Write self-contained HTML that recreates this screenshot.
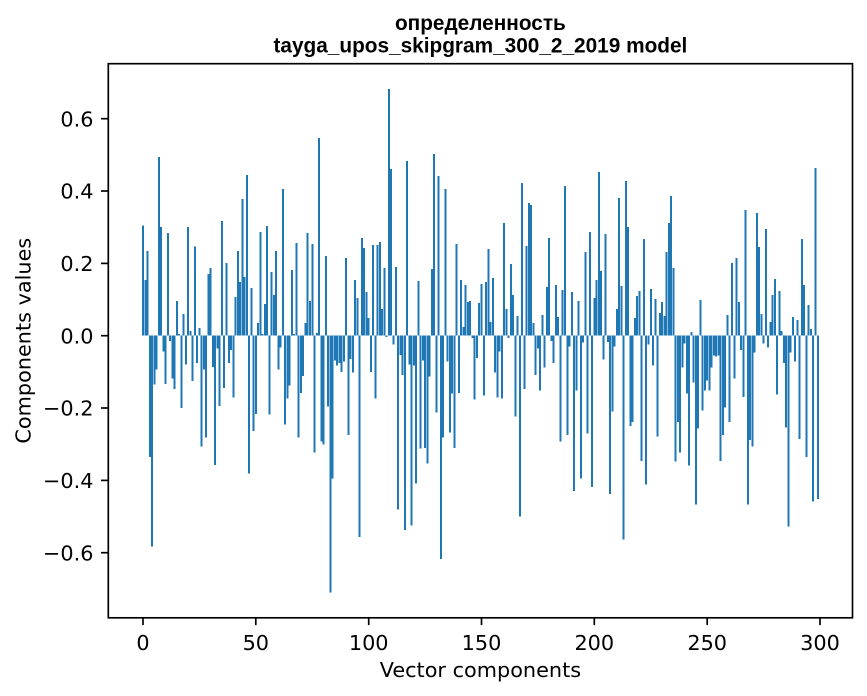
<!DOCTYPE html>
<html><head><meta charset="utf-8"><style>
html,body{margin:0;padding:0;background:#fff;}
svg{display:block;}
.t{font-family:"DejaVu Sans","Liberation Sans",sans-serif;font-size:20.8px;fill:#000;}
.ti{font-family:"Liberation Sans","DejaVu Sans",sans-serif;font-size:20.8px;font-weight:bold;fill:#000;}
.bars rect{width:.886px;}
</style></head><body>
<svg width="867" height="696" viewBox="0 0 867 696" xmlns="http://www.w3.org/2000/svg">
<rect width="867" height="696" fill="#fff"/>
<g class="bars" transform="translate(143,335.7) scale(2.2567,-361.7)" fill="#1f77b4" shape-rendering="crispEdges">
<rect x="-0.443" y="0" width=".886" height=".304"/>
<rect x="0.557" y="0" width=".886" height=".154"/>
<rect x="1.557" y="0" width=".886" height=".234"/>
<rect x="2.557" y="-.335" width=".886" height=".335"/>
<rect x="3.557" y="-.583" width=".886" height=".583"/>
<rect x="4.557" y="-.135" width=".886" height=".135"/>
<rect x="5.557" y="-.094" width=".886" height=".094"/>
<rect x="6.557" y="0" width=".886" height=".494"/>
<rect x="7.557" y="0" width=".886" height=".300"/>
<rect x="8.557" y="-.044" width=".886" height=".044"/>
<rect x="9.557" y="-.133" width=".886" height=".133"/>
<rect x="10.557" y="0" width=".886" height=".284"/>
<rect x="11.557" y="-.014" width=".886" height=".014"/>
<rect x="12.557" y="-.119" width=".886" height=".119"/>
<rect x="13.557" y="-.147" width=".886" height=".147"/>
<rect x="14.557" y="0" width=".886" height=".096"/>
<rect x="15.557" y="0" width=".886" height=".005"/>
<rect x="16.557" y="-.2" width=".886" height=".2"/>
<rect x="17.557" y="0" width=".886" height=".06"/>
<rect x="18.557" y="-.08" width=".886" height=".08"/>
<rect x="19.557" y="0" width=".886" height=".30"/>
<rect x="20.557" y="0" width=".886" height=".013"/>
<rect x="21.557" y="-.125" width=".886" height=".125"/>
<rect x="22.557" y="0" width=".886" height=".246"/>
<rect x="23.557" y="-.075" width=".886" height=".075"/>
<rect x="24.557" y="0" width=".886" height=".021"/>
<rect x="25.557" y="-.307" width=".886" height=".307"/>
<rect x="26.557" y="-.094" width=".886" height=".094"/>
<rect x="27.557" y="-.282" width=".886" height=".282"/>
<rect x="28.557" y="0" width=".886" height=".17"/>
<rect x="29.557" y="0" width=".886" height=".187"/>
<rect x="30.557" y="-.086" width=".886" height=".086"/>
<rect x="31.557" y="-.357" width=".886" height=".357"/>
<rect x="32.557" y="-.036" width=".886" height=".036"/>
<rect x="33.557" y="-.194" width=".886" height=".194"/>
<rect x="34.557" y="0" width=".886" height=".317"/>
<rect x="35.557" y="-.144" width=".886" height=".144"/>
<rect x="36.557" y="0" width=".886" height=".201"/>
<rect x="37.557" y="-.075" width=".886" height=".075"/>
<rect x="38.557" y="-.039" width=".886" height=".039"/>
<rect x="39.557" y="-.171" width=".886" height=".171"/>
<rect x="40.557" y="0" width=".886" height=".107"/>
<rect x="41.557" y="0" width=".886" height=".234"/>
<rect x="42.557" y="0" width=".886" height=".148"/>
<rect x="43.557" y="0" width=".886" height=".378"/>
<rect x="44.557" y="0" width=".886" height=".162"/>
<rect x="45.557" y="0" width=".886" height=".444"/>
<rect x="46.557" y="-.381" width=".886" height=".381"/>
<rect x="47.557" y="0" width=".886" height=".132"/>
<rect x="48.557" y="-.263" width=".886" height=".263"/>
<rect x="49.557" y="-.216" width=".886" height=".216"/>
<rect x="50.557" y="0" width=".886" height=".035"/>
<rect x="51.557" y="0" width=".886" height=".287"/>
<rect x="52.557" y="0" width=".886" height=".005"/>
<rect x="53.557" y="0" width=".886" height=".088"/>
<rect x="54.557" y="0" width=".886" height=".303"/>
<rect x="55.557" y="-.218" width=".886" height=".218"/>
<rect x="56.557" y="0" width=".886" height=".176"/>
<rect x="57.557" y="0" width=".886" height=".112"/>
<rect x="58.557" y="0" width=".886" height=".234"/>
<rect x="59.557" y="-.094" width=".886" height=".094"/>
<rect x="60.557" y="-.033" width=".886" height=".033"/>
<rect x="61.557" y="0" width=".886" height=".406"/>
<rect x="62.557" y="-.246" width=".886" height=".246"/>
<rect x="63.557" y="-.174" width=".886" height=".174"/>
<rect x="64.557" y="-.138" width=".886" height=".138"/>
<rect x="65.557" y="0" width=".886" height=".182"/>
<rect x="66.557" y="0" width=".886" height=".005"/>
<rect x="67.557" y="0" width=".886" height=".256"/>
<rect x="68.557" y="-.282" width=".886" height=".282"/>
<rect x="69.557" y="-.158" width=".886" height=".158"/>
<rect x="70.557" y="-.111" width=".886" height=".111"/>
<rect x="71.557" y="0" width=".886" height=".035"/>
<rect x="72.557" y="0" width=".886" height=".284"/>
<rect x="73.557" y="0" width=".886" height=".096"/>
<rect x="74.557" y="0" width=".886" height=".253"/>
<rect x="75.557" y="-.323" width=".886" height=".323"/>
<rect x="76.557" y="0" width=".886" height=".007"/>
<rect x="77.557" y="0" width=".886" height=".547"/>
<rect x="78.557" y="-.293" width=".886" height=".293"/>
<rect x="79.557" y="-.301" width=".886" height=".301"/>
<rect x="80.557" y="0" width=".886" height=".22"/>
<rect x="81.557" y="-.196" width=".886" height=".196"/>
<rect x="82.557" y="-.71" width=".886" height=".71"/>
<rect x="83.557" y="-.395" width=".886" height=".395"/>
<rect x="84.557" y="-.069" width=".886" height=".069"/>
<rect x="85.557" y="-.083" width=".886" height=".083"/>
<rect x="86.557" y="-.075" width=".886" height=".075"/>
<rect x="87.557" y="-.1" width=".886" height=".1"/>
<rect x="88.557" y="-.072" width=".886" height=".072"/>
<rect x="89.557" y="0" width=".886" height=".215"/>
<rect x="90.557" y="-.274" width=".886" height=".274"/>
<rect x="91.557" y="-.064" width=".886" height=".064"/>
<rect x="92.557" y="-.102" width=".886" height=".102"/>
<rect x="93.557" y="0" width=".886" height=".154"/>
<rect x="94.557" y="0" width=".886" height=".104"/>
<rect x="95.557" y="-.556" width=".886" height=".556"/>
<rect x="96.557" y="0" width=".886" height=".27"/>
<rect x="97.557" y="0" width=".886" height=".242"/>
<rect x="98.557" y="0" width=".886" height=".121"/>
<rect x="99.557" y="0" width=".886" height=".049"/>
<rect x="100.557" y="-.1" width=".886" height=".1"/>
<rect x="101.557" y="0" width=".886" height=".251"/>
<rect x="102.557" y="-.174" width=".886" height=".174"/>
<rect x="103.557" y="0" width=".886" height=".251"/>
<rect x="104.557" y="0" width=".886" height=".259"/>
<rect x="105.557" y="0" width=".886" height=".074"/>
<rect x="106.557" y="0" width=".886" height=".187"/>
<rect x="107.557" y="-.003" width=".886" height=".003"/>
<rect x="108.557" y="0" width=".886" height=".682"/>
<rect x="109.557" y="0" width=".886" height=".461"/>
<rect x="110.557" y="-.025" width=".886" height=".025"/>
<rect x="111.557" y="0" width=".886" height=".19"/>
<rect x="112.557" y="-.481" width=".886" height=".481"/>
<rect x="113.557" y="-.053" width=".886" height=".053"/>
<rect x="114.557" y="-.108" width=".886" height=".108"/>
<rect x="115.557" y="-.537" width=".886" height=".537"/>
<rect x="116.557" y="0" width=".886" height=".483"/>
<rect x="117.557" y="-.08" width=".886" height=".08"/>
<rect x="118.557" y="-.525" width=".886" height=".525"/>
<rect x="119.557" y="-.083" width=".886" height=".083"/>
<rect x="120.557" y="-.409" width=".886" height=".409"/>
<rect x="121.557" y="0" width=".886" height=".151"/>
<rect x="122.557" y="-.312" width=".886" height=".312"/>
<rect x="123.557" y="-.069" width=".886" height=".069"/>
<rect x="124.557" y="-.31" width=".886" height=".31"/>
<rect x="125.557" y="-.354" width=".886" height=".354"/>
<rect x="126.557" y="-.113" width=".886" height=".113"/>
<rect x="127.557" y="0" width=".886" height=".184"/>
<rect x="128.557" y="0" width=".886" height=".502"/>
<rect x="129.557" y="-.213" width=".886" height=".213"/>
<rect x="130.557" y="0" width=".886" height=".441"/>
<rect x="131.557" y="-.617" width=".886" height=".617"/>
<rect x="132.557" y="-.282" width=".886" height=".282"/>
<rect x="133.557" y="0" width=".886" height=".406"/>
<rect x="134.557" y="-.072" width=".886" height=".072"/>
<rect x="135.557" y="-.268" width=".886" height=".268"/>
<rect x="136.557" y="-.16" width=".886" height=".16"/>
<rect x="137.557" y="-.31" width=".886" height=".31"/>
<rect x="138.557" y="0" width=".886" height=".253"/>
<rect x="139.557" y="-.158" width=".886" height=".158"/>
<rect x="140.557" y="0" width=".886" height=".154"/>
<rect x="141.557" y="0" width=".886" height=".024"/>
<rect x="142.557" y="0" width=".886" height=".14"/>
<rect x="143.557" y="0" width=".886" height=".093"/>
<rect x="144.557" y="0" width=".886" height=".096"/>
<rect x="145.557" y="-.006" width=".886" height=".006"/>
<rect x="146.557" y="-.177" width=".886" height=".177"/>
<rect x="147.557" y="-.061" width=".886" height=".061"/>
<rect x="148.557" y="0" width=".886" height=".09"/>
<rect x="149.557" y="0" width=".886" height=".143"/>
<rect x="150.557" y="-.166" width=".886" height=".166"/>
<rect x="151.557" y="0" width=".886" height=".148"/>
<rect x="152.557" y="0" width=".886" height=".24"/>
<rect x="153.557" y="0" width=".886" height=".038"/>
<rect x="154.557" y="0" width=".886" height=".159"/>
<rect x="155.557" y="-.102" width=".886" height=".102"/>
<rect x="156.557" y="-.171" width=".886" height=".171"/>
<rect x="157.557" y="-.044" width=".886" height=".044"/>
<rect x="158.557" y="-.174" width=".886" height=".174"/>
<rect x="159.557" y="0" width=".886" height=".312"/>
<rect x="160.557" y="0" width=".886" height=".074"/>
<rect x="161.557" y="-.006" width=".886" height=".006"/>
<rect x="162.557" y="0" width=".886" height=".198"/>
<rect x="163.557" y="0" width=".886" height=".112"/>
<rect x="164.557" y="-.224" width=".886" height=".224"/>
<rect x="165.557" y="0" width=".886" height=".054"/>
<rect x="166.557" y="-.5" width=".886" height=".5"/>
<rect x="167.557" y="0" width=".886" height=".422"/>
<rect x="168.557" y="-.147" width=".886" height=".147"/>
<rect x="169.557" y="0" width=".886" height=".248"/>
<rect x="170.557" y="0" width=".886" height=".367"/>
<rect x="171.557" y="0" width=".886" height=".361"/>
<rect x="172.557" y="0" width=".886" height=".035"/>
<rect x="173.557" y="-.108" width=".886" height=".108"/>
<rect x="174.557" y="-.036" width=".886" height=".036"/>
<rect x="175.557" y="-.152" width=".886" height=".152"/>
<rect x="176.557" y="0" width=".886" height=".057"/>
<rect x="177.557" y="-.088" width=".886" height=".088"/>
<rect x="178.557" y="0" width=".886" height=".135"/>
<rect x="179.557" y="0" width=".886" height=".27"/>
<rect x="180.557" y="-.014" width=".886" height=".014"/>
<rect x="181.557" y="-.075" width=".886" height=".075"/>
<rect x="182.557" y="0" width=".886" height=".14"/>
<rect x="183.557" y="0" width=".886" height=".052"/>
<rect x="184.557" y="-.293" width=".886" height=".293"/>
<rect x="185.557" y="0" width=".886" height=".126"/>
<rect x="186.557" y="0" width=".886" height=".414"/>
<rect x="187.557" y="-.274" width=".886" height=".274"/>
<rect x="188.557" y="-.03" width=".886" height=".03"/>
<rect x="189.557" y="0" width=".886" height=".121"/>
<rect x="190.557" y="-.429" width=".886" height=".429"/>
<rect x="191.557" y="-.152" width=".886" height=".152"/>
<rect x="192.557" y="0" width=".886" height=".096"/>
<rect x="193.557" y="-.395" width=".886" height=".395"/>
<rect x="194.557" y="-.019" width=".886" height=".019"/>
<rect x="195.557" y="0" width=".886" height=".231"/>
<rect x="196.557" y="-.271" width=".886" height=".271"/>
<rect x="197.557" y="0" width=".886" height=".287"/>
<rect x="198.557" y="-.418" width=".886" height=".418"/>
<rect x="199.557" y="0" width=".886" height=".104"/>
<rect x="200.557" y="0" width=".886" height=".154"/>
<rect x="201.557" y="0" width=".886" height=".453"/>
<rect x="202.557" y="0" width=".886" height=".179"/>
<rect x="203.557" y="-.066" width=".886" height=".066"/>
<rect x="204.557" y="0" width=".886" height=".281"/>
<rect x="205.557" y="-.017" width=".886" height=".017"/>
<rect x="206.557" y="-.437" width=".886" height=".437"/>
<rect x="207.557" y="-.21" width=".886" height=".21"/>
<rect x="208.557" y="-.03" width=".886" height=".03"/>
<rect x="209.557" y="0" width=".886" height=".074"/>
<rect x="210.557" y="0" width=".886" height=".381"/>
<rect x="211.557" y="0" width=".886" height=".137"/>
<rect x="212.557" y="-.564" width=".886" height=".564"/>
<rect x="213.557" y="0" width=".886" height=".428"/>
<rect x="214.557" y="0" width=".886" height=".3"/>
<rect x="215.557" y="-.249" width=".886" height=".249"/>
<rect x="216.557" y="-.238" width=".886" height=".238"/>
<rect x="217.557" y="0" width=".886" height=".049"/>
<rect x="218.557" y="0" width=".886" height=".11"/>
<rect x="219.557" y="0" width=".886" height=".123"/>
<rect x="220.557" y="-.346" width=".886" height=".346"/>
<rect x="221.557" y="0" width=".886" height=".267"/>
<rect x="222.557" y="-.412" width=".886" height=".412"/>
<rect x="223.557" y="-.025" width=".886" height=".025"/>
<rect x="224.557" y="0" width=".886" height=".129"/>
<rect x="225.557" y="-.083" width=".886" height=".083"/>
<rect x="226.557" y="0" width=".886" height=".101"/>
<rect x="227.557" y="-.279" width=".886" height=".279"/>
<rect x="228.557" y="0" width=".886" height=".063"/>
<rect x="229.557" y="0" width=".886" height=".093"/>
<rect x="230.557" y="0" width=".886" height=".054"/>
<rect x="231.557" y="0" width=".886" height=".231"/>
<rect x="232.557" y="0" width=".886" height=".312"/>
<rect x="233.557" y="0" width=".886" height=".386"/>
<rect x="234.557" y="0" width=".886" height=".187"/>
<rect x="235.557" y="-.348" width=".886" height=".348"/>
<rect x="236.557" y="-.238" width=".886" height=".238"/>
<rect x="237.557" y="-.323" width=".886" height=".323"/>
<rect x="238.557" y="-.088" width=".886" height=".088"/>
<rect x="239.557" y="-.022" width=".886" height=".022"/>
<rect x="240.557" y="-.16" width=".886" height=".16"/>
<rect x="241.557" y="-.359" width=".886" height=".359"/>
<rect x="242.557" y="0" width=".886" height=".01"/>
<rect x="243.557" y="-.13" width=".886" height=".13"/>
<rect x="244.557" y="-.467" width=".886" height=".467"/>
<rect x="245.557" y="-.257" width=".886" height=".257"/>
<rect x="246.557" y="0" width=".886" height=".099"/>
<rect x="247.557" y="-.207" width=".886" height=".207"/>
<rect x="248.557" y="-.152" width=".886" height=".152"/>
<rect x="249.557" y="-.124" width=".886" height=".124"/>
<rect x="250.557" y="-.152" width=".886" height=".152"/>
<rect x="251.557" y="-.088" width=".886" height=".088"/>
<rect x="252.557" y="-.055" width=".886" height=".055"/>
<rect x="253.557" y="-.058" width=".886" height=".058"/>
<rect x="254.557" y="-.055" width=".886" height=".055"/>
<rect x="255.557" y="-.346" width=".886" height=".346"/>
<rect x="256.557" y="-.274" width=".886" height=".274"/>
<rect x="257.557" y="-.199" width=".886" height=".199"/>
<rect x="258.557" y="0" width=".886" height=".057"/>
<rect x="259.557" y="-.238" width=".886" height=".238"/>
<rect x="260.557" y="0" width=".886" height=".201"/>
<rect x="261.557" y="-.119" width=".886" height=".119"/>
<rect x="262.557" y="0" width=".886" height=".215"/>
<rect x="263.557" y="0" width=".886" height=".093"/>
<rect x="264.557" y="-.039" width=".886" height=".039"/>
<rect x="265.557" y="-.169" width=".886" height=".169"/>
<rect x="266.557" y="0" width=".886" height=".347"/>
<rect x="267.557" y="-.467" width=".886" height=".467"/>
<rect x="268.557" y="-.288" width=".886" height=".288"/>
<rect x="269.557" y="-.307" width=".886" height=".307"/>
<rect x="270.557" y="-.047" width=".886" height=".047"/>
<rect x="271.557" y="0" width=".886" height=".339"/>
<rect x="272.557" y="0" width=".886" height=".245"/>
<rect x="273.557" y="0" width=".886" height=".06"/>
<rect x="274.557" y="-.022" width=".886" height=".022"/>
<rect x="275.557" y="0" width=".886" height=".295"/>
<rect x="276.557" y="-.033" width=".886" height=".033"/>
<rect x="277.557" y="0" width=".886" height=".038"/>
<rect x="278.557" y="0" width=".886" height=".112"/>
<rect x="279.557" y="0" width=".886" height=".157"/>
<rect x="280.557" y="-.163" width=".886" height=".163"/>
<rect x="281.557" y="0" width=".886" height=".123"/>
<rect x="282.557" y="0" width=".886" height=".013"/>
<rect x="283.557" y="-.075" width=".886" height=".075"/>
<rect x="284.557" y="-.254" width=".886" height=".254"/>
<rect x="285.557" y="-.528" width=".886" height=".528"/>
<rect x="286.557" y="-.047" width=".886" height=".047"/>
<rect x="287.557" y="0" width=".886" height=".052"/>
<rect x="288.557" y="-.072" width=".886" height=".072"/>
<rect x="289.557" y="0" width=".886" height=".043"/>
<rect x="290.557" y="-.285" width=".886" height=".285"/>
<rect x="291.557" y="0" width=".886" height=".267"/>
<rect x="292.557" y="0" width=".886" height=".14"/>
<rect x="293.557" y="-.335" width=".886" height=".335"/>
<rect x="294.557" y="0" width=".886" height=".085"/>
<rect x="295.557" y="0" width=".886" height=".018"/>
<rect x="296.557" y="-.459" width=".886" height=".459"/>
<rect x="297.557" y="0" width=".886" height=".464"/>
<rect x="298.557" y="-.451" width=".886" height=".451"/>
</g>
<rect x="108.3" y="63.7" width="744.2" height="554.1" fill="none" stroke="#000" stroke-width="1.67"/>
<g stroke="#000" stroke-width="1.67">
<line x1="143" y1="617.8" x2="143" y2="625.1"/>
<line x1="255.8" y1="617.8" x2="255.8" y2="625.1"/>
<line x1="368.7" y1="617.8" x2="368.7" y2="625.1"/>
<line x1="481.5" y1="617.8" x2="481.5" y2="625.1"/>
<line x1="594.3" y1="617.8" x2="594.3" y2="625.1"/>
<line x1="707.2" y1="617.8" x2="707.2" y2="625.1"/>
<line x1="820" y1="617.8" x2="820" y2="625.1"/>
<line x1="101" y1="552.7" x2="108.3" y2="552.7"/>
<line x1="101" y1="480.4" x2="108.3" y2="480.4"/>
<line x1="101" y1="408.0" x2="108.3" y2="408.0"/>
<line x1="101" y1="335.7" x2="108.3" y2="335.7"/>
<line x1="101" y1="263.4" x2="108.3" y2="263.4"/>
<line x1="101" y1="191.0" x2="108.3" y2="191.0"/>
<line x1="101" y1="118.7" x2="108.3" y2="118.7"/>
</g>
<g class="t" text-anchor="middle">
<text x="143" y="650">0</text>
<text x="255.8" y="650">50</text>
<text x="368.7" y="650">100</text>
<text x="481.5" y="650">150</text>
<text x="594.3" y="650">200</text>
<text x="707.2" y="650">250</text>
<text x="820" y="650">300</text>
</g>
<g class="t" text-anchor="end">
<text x="93.5" y="560.3">−0.6</text>
<text x="93.5" y="488.0">−0.4</text>
<text x="93.5" y="415.6">−0.2</text>
<text x="93.5" y="343.3">0.0</text>
<text x="93.5" y="271.0">0.2</text>
<text x="93.5" y="198.6">0.4</text>
<text x="93.5" y="126.3">0.6</text>
</g>
<text class="t" x="480.4" y="677" text-anchor="middle">Vector components</text>
<text class="t" transform="translate(30.5,340.7) rotate(-90)" text-anchor="middle">Components values</text>
<text class="ti" x="480.4" y="30" text-anchor="middle">определенность</text>
<text class="ti" x="480.4" y="52.5" text-anchor="middle">tayga_upos_skipgram_300_2_2019 model</text>
</svg>
</body></html>
